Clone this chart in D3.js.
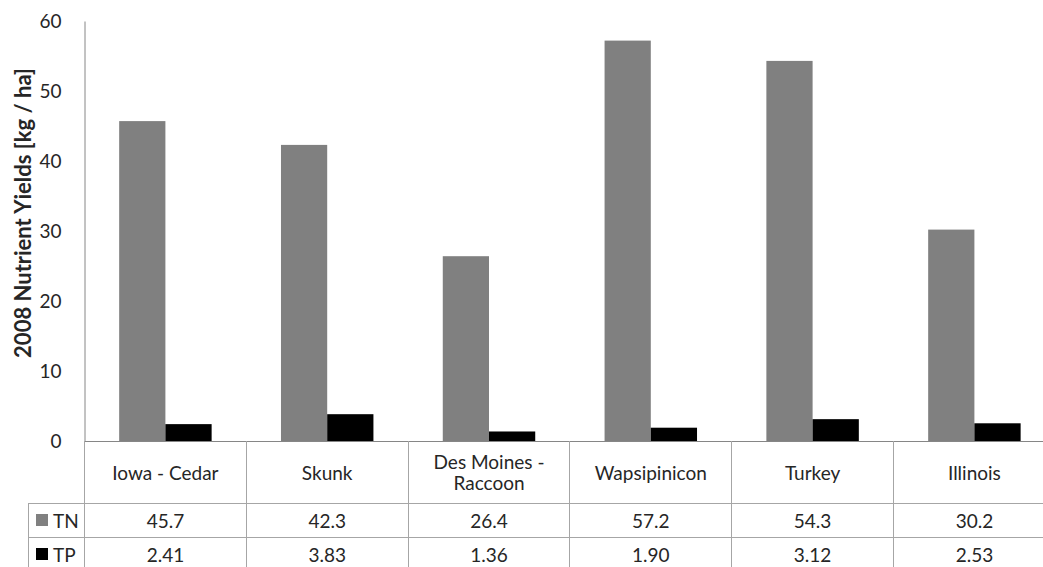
<!DOCTYPE html>
<html>
<head>
<meta charset="utf-8">
<script src="https://cdn.jsdelivr.net/npm/d3@7"></script>
<style>
  html, body { margin: 0; padding: 0; background: #fff; }
  svg { display: block; font-family: Lato, "Open Sans", sans-serif; }
</style>
</head>
<body>
<svg id="chart" width="1043" height="567"></svg>
<script>
// Rivers and their 2008 nutrient yields (kg / ha)
const categories = ["Iowa - Cedar", "Skunk", "Des Moines - Raccoon", "Wapsipinicon", "Turkey", "Illinois"];
const categoryLines = [["Iowa - Cedar"], ["Skunk"], ["Des Moines -", "Raccoon"], ["Wapsipinicon"], ["Turkey"], ["Illinois"]];
const seriesNames = ["TN", "TP"];
const tnValues = [45.7, 42.3, 26.4, 57.2, 54.3, 30.2];
const tpValues = [2.41, 3.83, 1.36, 1.90, 3.12, 2.53];
const tnLabels = ["45.7", "42.3", "26.4", "57.2", "54.3", "30.2"];
const tpLabels = ["2.41", "3.83", "1.36", "1.90", "3.12", "2.53"];
const yTicks = [0, 10, 20, 30, 40, 50, 60];
const seriesColors = ["#808080", "#000000"];

const svg = d3.select("#chart");
const plotLeft = 84.5, plotTop = 21, plotBottom = 441;
const catWidth = 161.8;
const plotRight = plotLeft + catWidth * categories.length;
const rowTops = [441, 503, 537, 571];
const legendLeft = 28;
const gridColor = "#a6a6a6";
const textColor = "#262626";
const fontSize = 19;

const y = d3.scaleLinear().domain([0, 60]).range([plotBottom, plotTop]);
const x0 = d3.scaleBand().domain(categories).range([plotLeft, plotRight]).padding(0);
const x1 = d3.scaleBand().domain(seriesNames).range([0, x0.bandwidth()])
  .paddingInner(0).paddingOuter(0.75);

const rows = categories.map((c, i) => ({ cat: c, values: [tnValues[i], tpValues[i]] }));

// Bars
const groups = svg.append("g").selectAll("g").data(rows).join("g")
  .attr("transform", d => `translate(${x0(d.cat)},0)`);
groups.selectAll("rect")
  .data(d => d.values.map((v, k) => ({ key: seriesNames[k], v, k })))
  .join("rect")
  .attr("x", d => x1(d.key))
  .attr("width", x1.bandwidth())
  .attr("y", d => y(d.v))
  .attr("height", d => y(0) - y(d.v))
  .attr("fill", d => seriesColors[d.k]);

// Value axis (no tick marks)
const yAxis = svg.append("g")
  .attr("transform", `translate(${plotLeft},0)`)
  .call(d3.axisLeft(y).tickValues(yTicks).tickSize(0).tickPadding(23).tickFormat(d3.format("d")));
yAxis.select(".domain").attr("stroke", "#868686");
yAxis.selectAll("text").attr("fill", textColor).style("font-size", fontSize + "px").style("font-family", "Lato, sans-serif");

// Axis title
svg.append("text")
  .attr("transform", `translate(22,213) rotate(-90)`)
  .attr("text-anchor", "middle")
  .attr("dominant-baseline", "central")
  .attr("font-weight", "bold")
  .attr("font-size", 22)
  .attr("fill", textColor)
  .text("2008 Nutrient Yields [kg / ha]");

// Data table
const table = svg.append("g").attr("stroke", gridColor).attr("stroke-width", 1).attr("shape-rendering", "crispEdges");
table.append("line").attr("x1", plotLeft).attr("x2", plotRight).attr("y1", plotBottom).attr("y2", plotBottom).attr("stroke", "#868686");
[rowTops[1], rowTops[2], rowTops[3]].forEach(yy => {
  table.append("line").attr("x1", legendLeft).attr("x2", plotRight).attr("y1", yy).attr("y2", yy);
});
table.append("line").attr("x1", legendLeft).attr("x2", legendLeft).attr("y1", rowTops[1]).attr("y2", rowTops[3]);
categories.forEach(c => {
  table.append("line").attr("x1", x0(c) + x0.bandwidth()).attr("x2", x0(c) + x0.bandwidth())
    .attr("y1", plotBottom).attr("y2", rowTops[3]);
});
table.append("line").attr("x1", plotLeft).attr("x2", plotLeft).attr("y1", plotBottom).attr("y2", rowTops[3]);

// Category header row
const headerMid = (rowTops[0] + rowTops[1]) / 2;
const lineH = 21;
categories.forEach((c, i) => {
  const lines = categoryLines[i];
  const t = svg.append("text")
    .attr("text-anchor", "middle")
    .attr("font-size", fontSize)
    .attr("fill", textColor);
  lines.forEach((ln, j) => {
    t.append("tspan")
      .attr("x", x0(c) + x0.bandwidth() / 2)
      .attr("y", headerMid + (j - (lines.length - 1) / 2) * lineH)
      .attr("dominant-baseline", "central")
      .text(ln);
  });
});

// Value rows with legend keys
const valueRows = [tnLabels, tpLabels];
valueRows.forEach((labels, r) => {
  const mid = (rowTops[r + 1] + rowTops[r + 2]) / 2;
  svg.append("rect")
    .attr("x", 36).attr("y", mid - 6).attr("width", 12).attr("height", 12)
    .attr("fill", seriesColors[r]);
  svg.append("text")
    .attr("x", 53).attr("y", mid)
    .attr("dominant-baseline", "central")
    .attr("font-size", fontSize)
    .attr("fill", textColor)
    .text(seriesNames[r]);
  categories.forEach((c, i) => {
    svg.append("text")
      .attr("x", x0(c) + x0.bandwidth() / 2)
      .attr("y", mid)
      .attr("text-anchor", "middle")
      .attr("dominant-baseline", "central")
      .attr("font-size", fontSize)
      .attr("fill", textColor)
      .text(labels[i]);
  });
});
</script>
</body>
</html>
